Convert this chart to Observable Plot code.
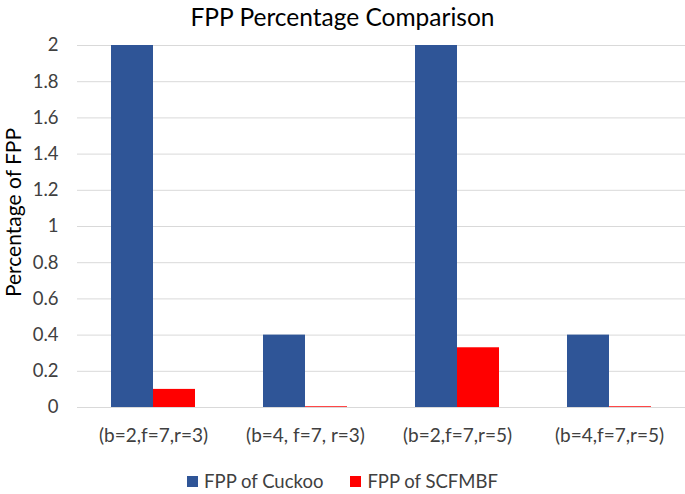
<!DOCTYPE html>
<html>
<head>
<meta charset="utf-8">
<script src="https://cdn.jsdelivr.net/npm/d3@7"></script>
<script src="https://cdn.jsdelivr.net/npm/@observablehq/plot@0.6"></script>
<style>
  body { margin: 0; background: #fff; font-family: Lato, sans-serif; color: #404040; }
  #wrap { width: 685px; height: 494px; position: relative; overflow: hidden; }
  #title { height: 34px; line-height: 34px; text-align: center; font-size: 24.5px; color: #000; }
  #legend { display: flex; justify-content: center; gap: 27px; font-size: 18.5px; line-height: 22px; color: #404040; margin-top: 16px; padding-left: 0px; }
  .item { display: flex; align-items: center; gap: 6px; }
  .sw { width: 11px; height: 11px; display: inline-block; }
</style>
</head>
<body>
<div id="wrap">
  <div id="title">FPP Percentage Comparison</div>
  <div id="chart"></div>
  <div id="legend"></div>
</div>
<script>
const categories = ["(b=2,f=7,r=3)", "(b=4, f=7, r=3)", "(b=2,f=7,r=5)", "(b=4,f=7,r=5)"];
const seriesNames = ["FPP of Cuckoo", "FPP of SCFMBF"];
const cuckoo = [2, 0.4, 2, 0.4];
const scfmbf = [0.1, 0.004, 0.33, 0.004];
const colors = ["#2F5597", "#FF0000"];
const yTicks = [0, 0.2, 0.4, 0.6, 0.8, 1, 1.2, 1.4, 1.6, 1.8, 2];

const data = [];
categories.forEach((c, i) => {
  data.push({cat: c, series: seriesNames[0], value: cuckoo[i]});
  data.push({cat: c, series: seriesNames[1], value: scfmbf[i]});
});

const chart = Plot.plot({
  width: 685,
  height: 420,
  marginLeft: 77,
  marginRight: 0,
  marginTop: 11,
  marginBottom: 47,
  style: { fontFamily: "Lato, sans-serif", fontSize: "19px", color: "#404040", background: "#fff" },
  fx: { domain: categories, paddingInner: 0, paddingOuter: 0, label: null, axis: "bottom", tickSize: 0, tickPadding: 21 },
  x: { domain: seriesNames, paddingInner: 0, paddingOuter: 0.77, axis: null },
  y: { domain: [0, 2], ticks: yTicks, label: null, grid: false, axis: null },
  color: { domain: seriesNames, range: colors },
  marks: [
    Plot.gridY(yTicks, { stroke: "#d9d9d9", strokeOpacity: 1, strokeWidth: 1 }),
    Plot.axisY(yTicks, { facetAnchor: "left", tickSize: 0, tickPadding: 19, fontSize: 18.5, label: null, tickFormat: d => String(d) }),
    Plot.barY(data, { fx: "cat", x: "series", y: "value", fill: "series" }),
    Plot.text(["Percentage of FPP"], { frameAnchor: "left", facetAnchor: "left", textAnchor: "middle", dx: -63, dy: -14, rotate: -90, fontSize: 21, fill: "#000" })
  ]
});
document.getElementById("chart").appendChild(chart);

const legend = document.getElementById("legend");
seriesNames.forEach((s, i) => {
  const it = document.createElement("div");
  it.className = "item";
  const sw = document.createElement("span");
  sw.className = "sw";
  sw.style.background = colors[i];
  const t = document.createElement("span");
  t.textContent = s;
  it.appendChild(sw); it.appendChild(t);
  legend.appendChild(it);
});
</script>
</body>
</html>
